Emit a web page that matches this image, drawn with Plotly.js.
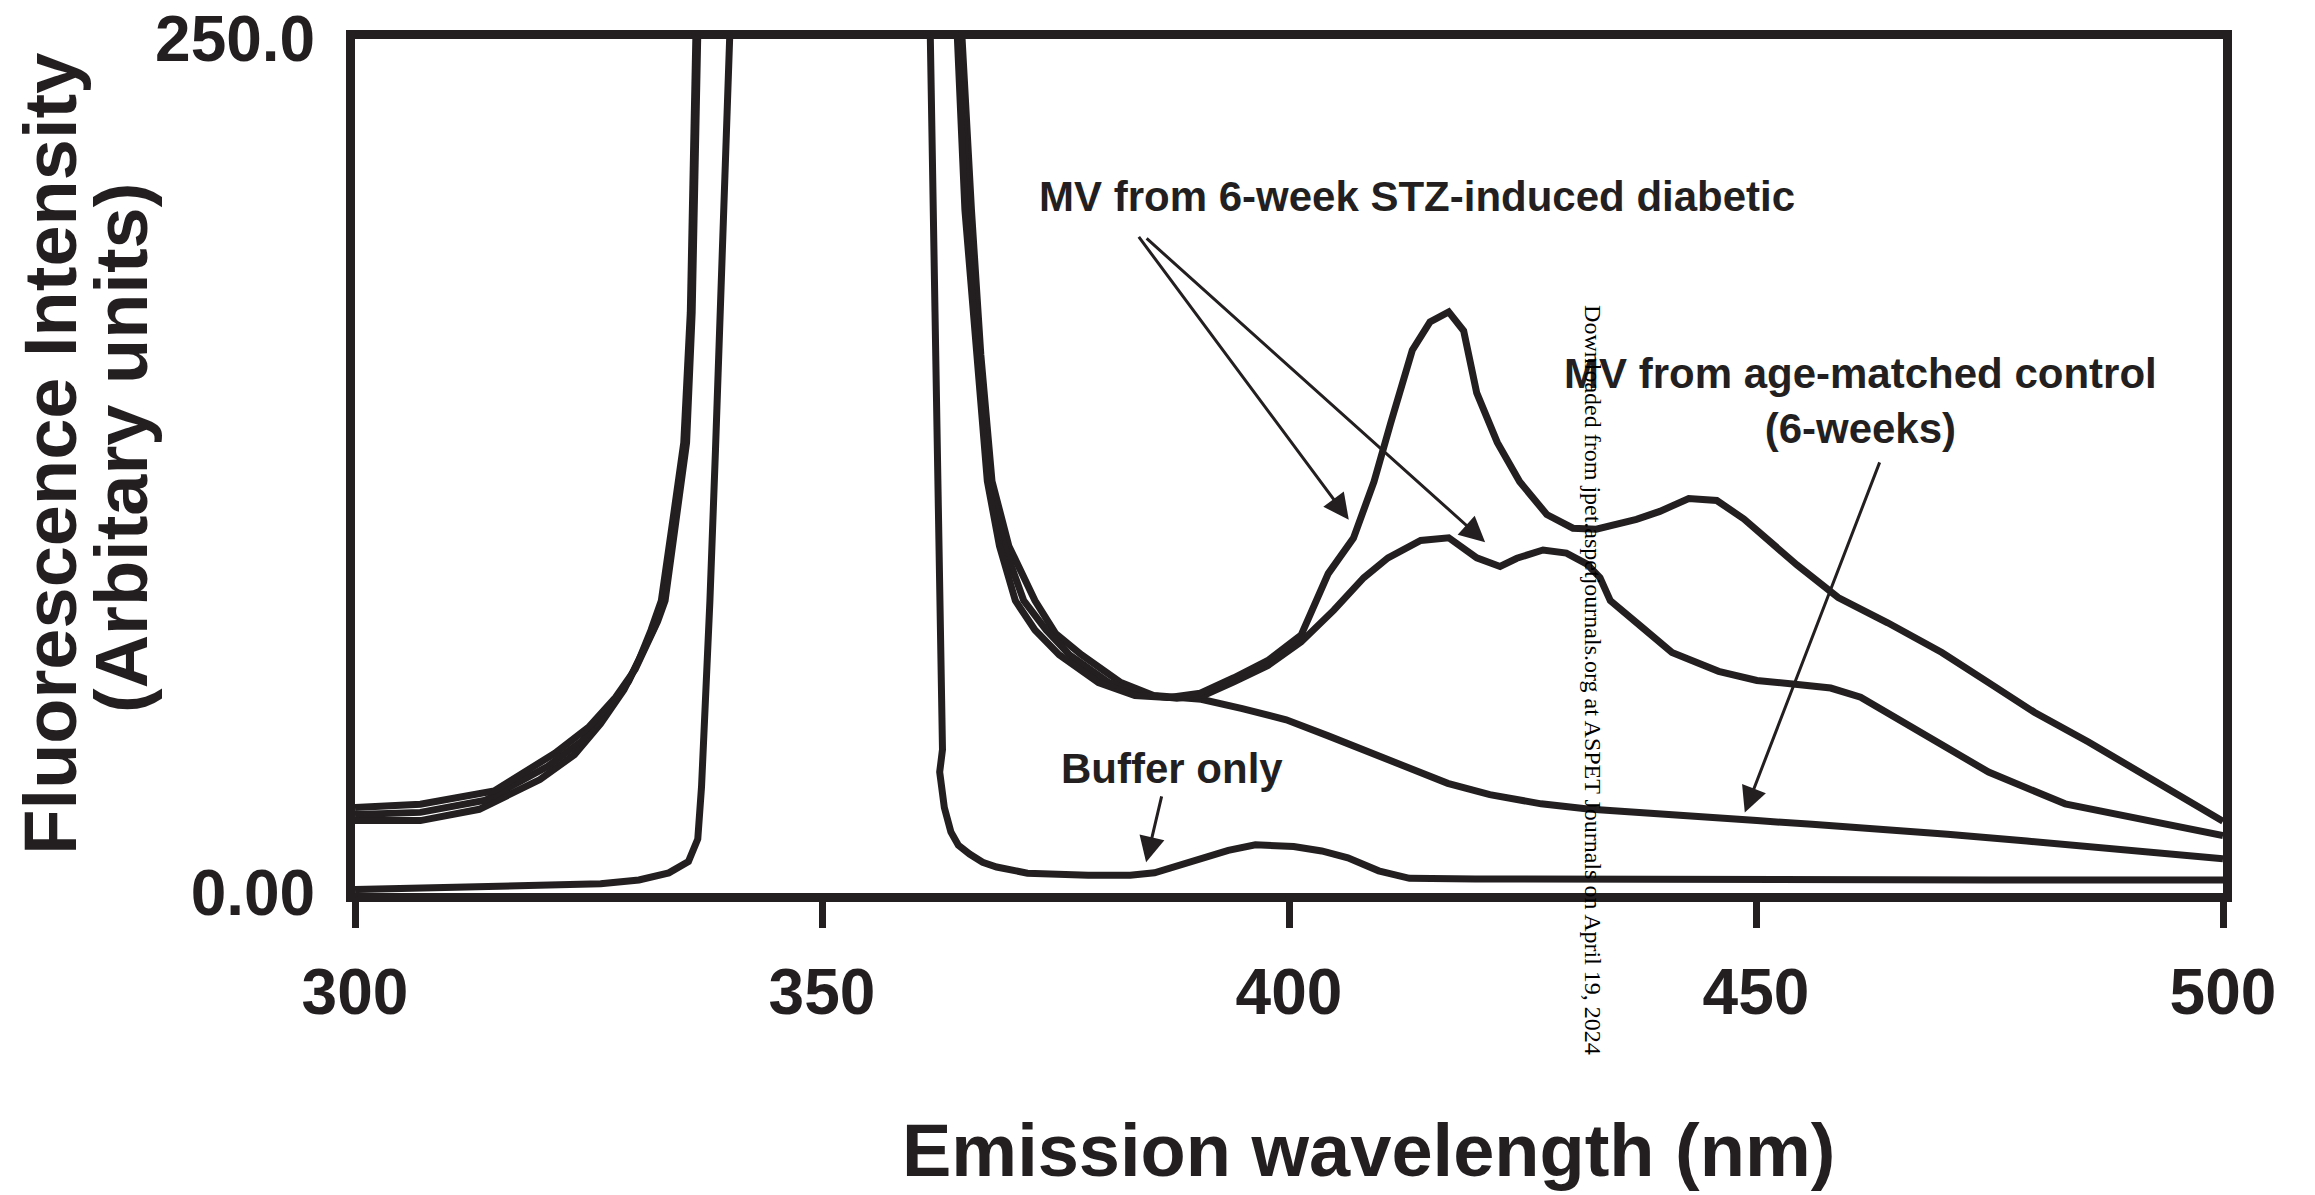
<!DOCTYPE html>
<html>
<head>
<meta charset="utf-8">
<script src="https://cdn.plot.ly/plotly-3.0.1.min.js"></script>
<style>html,body{margin:0;padding:0;background:#fff;}#chart{width:2315px;height:1195px;}</style>
</head>
<body>
<div id="chart"></div>
<script>
// ---------- data ----------
// Emission wavelength (nm) / fluorescence intensity (arbitrary units); values above 250 are off-scale
const bufferX = [300, 310, 320, 326.3, 330.4, 333.6, 335.7, 336.7, 337.1, 337.5, 338.0, 338.6, 339.3, 340.0, 340.3,
  361.3, 361.6, 362.1, 362.6, 362.9, 362.6, 363.1, 363.8, 364.6, 365.8, 367.2, 368.7, 372, 378.5, 383, 385.6,
  390, 393.5, 396.4, 400.5, 403.5, 406.3, 409.6, 412.9, 420, 429.4, 450, 475, 500];
const bufferY = [1.0, 1.6, 2.2, 2.7, 3.8, 5.9, 9.2, 15.8, 31, 52.9, 85.6, 130, 190, 250, 265,
  265, 250, 170, 85.6, 42, 35.4, 25, 17.9, 14, 11.4, 9, 7.6, 5.8, 5.2, 5.2, 5.9,
  9.5, 12.5, 14.1, 13.6, 12.3, 10.3, 6.5, 4.3, 4.1, 4.0, 3.9, 3.8, 3.8];

const diabHighX = [300, 307, 314.9, 321.4, 325, 327.9, 330, 331.2, 332.4, 333.2, 334.3, 335.5, 336.1, 336.5, 336.8,
  364.2, 364.5, 365.3, 366.5, 367.7, 369.0, 370.7, 372.8, 375.4, 379.6, 383.5, 387, 390.5, 394.1, 397.7,
  401.3, 404.2, 406.9, 409.1, 410.9, 412.0, 413.2, 415.1, 417.1, 418.7, 420.1, 422.3, 424.7, 427.6, 430.4,
  432.9, 437.2, 439.7, 442.8, 445.8, 448.7, 454.4, 458.8, 464.1, 469.9, 474.9, 479.8, 485.6, 493.0, 500];
const diabHighY = [25.0, 26.0, 29.9, 40.9, 48.5, 57.3, 65.5, 72.5, 79.5, 85.6, 108.5, 131.8, 170, 250, 265,
  265, 250, 200, 157.7, 120.6, 101.6, 85.6, 77, 69.7, 61.6, 57.8, 57.2, 58.5, 63.0, 68.0,
  75.5, 93.5, 103.9, 120.4, 137.7, 147.3, 158.9, 167.2, 170.1, 164.6, 146.4, 131.9, 120.4, 110.8, 106.8,
  106.5, 109.4, 111.7, 115.5, 114.9, 109.5, 96.0, 86.5, 79.1, 70.4, 61.6, 52.9, 44.2, 32.1, 21.0];

const diabLowX = [300, 307, 314, 320.6, 324.3, 327.1, 329.3, 330.8, 332.1, 333.0, 334.1, 335.3, 336.0, 336.4, 336.7,
  364.4, 364.8, 365.6, 366.8, 368.0, 369.5, 371.6, 374, 376.5, 380.7, 384.5, 388, 391, 394.1, 397.7,
  401.3, 404.8, 408.0, 410.6, 414.1, 417.1, 420.1, 422.6, 424.4, 427.2, 429.7, 431.9, 433.3, 434.4,
  437.7, 441.0, 446.0, 450.1, 454.2, 458, 461.2, 466.6, 474.9, 483.1, 493.9, 500];
const diabLowY = [23.0, 23.6, 27.2, 37.0, 44.5, 53.4, 62.0, 70.4, 78.0, 85.6, 108.5, 131.8, 170, 250, 265,
  265, 250, 200, 157.7, 120.6, 101.6, 85.6, 77, 69.7, 61.6, 58, 57, 58, 61.8, 66.5,
  73.5, 82.8, 92.3, 98.1, 103.2, 104.0, 98.1, 95.6, 98.0, 100.4, 99.5, 96.3, 92.3, 85.6,
  78.0, 70.4, 64.9, 62.2, 61.1, 60.0, 57.3, 48.5, 35.4, 26.1, 20.1, 16.8];

const controlX = [300, 307, 313.3, 319.8, 323.5, 326.3, 328.8, 330.4, 331.7, 332.8, 334.0, 335.2, 335.9, 336.3, 336.6,
  364.6, 365.0, 366.0, 367.0, 368.2, 370.0, 372.8, 375.0, 377.8, 382.0, 385.5, 390.6, 395, 399.7,
  404.2, 408.8, 413, 417.0, 421.5, 427.0, 432, 437.7, 443.5, 450.1, 456, 462.5, 470.5, 479.0, 489, 500];
const controlY = [21.2, 21.2, 24.5, 33.2, 40.5, 49.6, 59.5, 68.2, 77.0, 85.6, 108.5, 131.8, 170, 250, 265,
  265, 250, 200, 157.7, 120.6, 101.6, 85.6, 76, 69.7, 61.6, 57.8, 56.7, 54.0, 50.7,
  46.0, 40.9, 36.3, 32.1, 28.8, 26.1, 24.6, 23.4, 22.3, 21.2, 20.1, 19.0, 17.2, 15.2, 12.8, 10.0];

const xTickVals = [300, 350, 400, 450, 500];
const xTickText = ['300', '350', '400', '450', '500'];
const yTickVals = [0, 250];
const yTickText = ['0.00', '250.0'];

// ---------- style ----------
const INK = '#231f20';
const SANS = 'Liberation Sans, Arial, Helvetica, sans-serif';
const SERIF = 'Liberation Serif, Times New Roman, serif';
const LW = 7;

function curve(x, y, name) {
  return {type: 'scatter', mode: 'lines', x: x, y: y, name: name,
    line: {color: INK, width: LW, shape: 'linear'}, hoverinfo: 'skip'};
}

const traces = [
  curve(bufferX, bufferY, 'Buffer only'),
  curve(controlX, controlY, 'MV from age-matched control (6-weeks)'),
  curve(diabLowX, diabLowY, 'MV from 6-week STZ-induced diabetic'),
  curve(diabHighX, diabHighY, 'MV from 6-week STZ-induced diabetic')
];

function label(text, x, y, size) {
  return {text: text, x: x, y: y, xref: 'x', yref: 'y', showarrow: false,
    xanchor: 'center', yanchor: 'middle', align: 'center',
    font: {family: SANS, size: size, color: INK, weight: 'bold'}};
}
function arrow(tailX, tailY, headX, headY) {
  return {text: '', x: headX, y: headY, ax: tailX, ay: tailY, xref: 'x', yref: 'y',
    axref: 'x', ayref: 'y', showarrow: true, arrowhead: 2, arrowsize: 1.7,
    arrowwidth: 3, arrowcolor: INK, standoff: 0, startstandoff: 0};
}

const annotations = [
  label('MV from 6-week STZ-induced diabetic', 413.7, 203.9, 42),
  {text: 'MV from age-matched control<br>(6-weeks)', x: 461.2, y: 144.0, xref: 'x', yref: 'y',
    showarrow: false, xanchor: 'center', yanchor: 'middle', align: 'center',
    font: {family: SANS, size: 42, color: INK, weight: 'bold'}},
  label('Buffer only', 387.5, 36.5, 42),
  arrow(383.8, 192.5, 406.4, 109.3),
  arrow(384.6, 192.0, 421.0, 102.7),
  arrow(463.3, 126.5, 448.8, 23.6),
  arrow(386.4, 28.7, 384.7, 9.0),
  {text: 'Emission wavelength (nm)', xref: 'paper', yref: 'paper', x: 0.5428, y: -0.302,
    showarrow: false, xanchor: 'center', yanchor: 'middle',
    font: {family: SANS, size: 74, color: INK, weight: 'bold'}},
  {text: 'Fluorescence Intensity', xref: 'paper', yref: 'paper', x: -0.1635, y: 0.514,
    textangle: -90, showarrow: false, xanchor: 'center', yanchor: 'middle',
    font: {family: SANS, size: 74, color: INK, weight: 'bold'}},
  {text: '(Arbitary units)', xref: 'paper', yref: 'paper', x: -0.1253, y: 0.521,
    textangle: -90, showarrow: false, xanchor: 'center', yanchor: 'middle',
    font: {family: SANS, size: 74, color: INK, weight: 'bold'}},
  {text: 'Downloaded from jpet.aspetjournals.org at ASPET Journals on April 19, 2024',
    xref: 'paper', yref: 'paper', x: 0.6627, y: 0.2494, textangle: 90, showarrow: false,
    xanchor: 'center', yanchor: 'middle',
    font: {family: SERIF, size: 24, color: '#000000'}}
];

const layout = {
  width: 2315, height: 1195,
  margin: {l: 355, r: 92, t: 39, b: 302, pad: 0},
  paper_bgcolor: '#ffffff', plot_bgcolor: '#ffffff',
  showlegend: false,
  font: {family: SANS, color: INK},
  xaxis: {
    range: [300, 500], tickmode: 'array', tickvals: xTickVals, ticktext: xTickText,
    ticks: 'outside', ticklen: 26, tickwidth: 7, tickcolor: INK,
    showline: true, linewidth: 9, linecolor: INK, mirror: true,
    showgrid: false, zeroline: false, fixedrange: true,
    ticklabelstandoff: 9,
    tickfont: {family: SANS, size: 64, color: INK, weight: 'bold'}
  },
  yaxis: {
    range: [0, 250], tickmode: 'array', tickvals: yTickVals, ticktext: yTickText,
    ticks: '', showline: true, linewidth: 9, linecolor: INK, mirror: true,
    showgrid: false, zeroline: false, fixedrange: true,
    ticklabelstandoff: 18,
    tickfont: {family: SANS, size: 64, color: INK, weight: 'bold'}
  },
  annotations: annotations
};

Plotly.newPlot('chart', traces, layout, {staticPlot: true, displayModeBar: false});
</script>
</body>
</html>
